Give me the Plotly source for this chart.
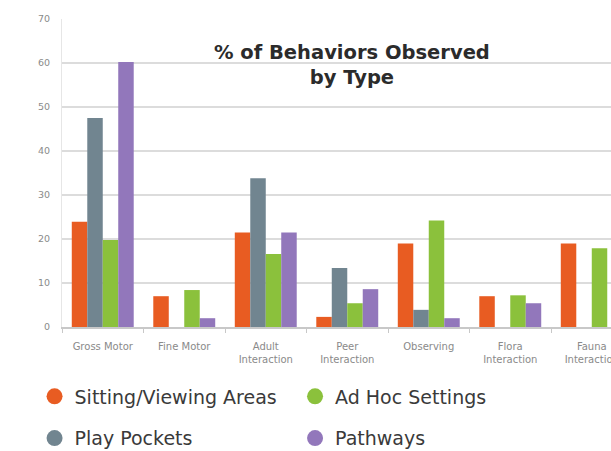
import plotly.graph_objects as go

categories = ["Gross Motor", "Fine Motor", "Adult<br>Interaction", "Peer<br>Interaction",
              "Observing", "Flora<br>Interaction", "Fauna<br>Interaction"]
sitting = [23.9, 7.0, 21.5, 2.3, 19.0, 7.0, 19.0]
play_pockets = [47.5, 0, 33.8, 13.4, 3.9, 0, 0]
ad_hoc = [19.8, 8.4, 16.6, 5.4, 24.2, 7.2, 17.9]
pathways = [60.2, 2.0, 21.5, 8.6, 2.0, 5.4, 0]

series = [
    ("Sitting/Viewing Areas", sitting, "#e85c22", "legend"),
    ("Play Pockets", play_pockets, "#718590", "legend"),
    ("Ad Hoc Settings", ad_hoc, "#8bc13c", "legend2"),
    ("Pathways", pathways, "#9277bb", "legend2"),
]

fig = go.Figure()
for name, vals, color, _ in series:
    fig.add_trace(go.Bar(x=categories, y=vals, name=name, marker_color=color,
                         marker_line_width=0, showlegend=False))
for i, (name, vals, color, leg) in enumerate(series):
    fig.add_trace(go.Scatter(x=[None], y=[None], mode="markers", name=name,
                             marker=dict(color=color, size=17, symbol="circle"),
                             legend=leg, legendgroup=name, showlegend=True))

legend_common = dict(orientation="v", yanchor="top", xanchor="left",
                     font=dict(family="DejaVu Sans", size=19, color="#3a3a3a"),
                     bgcolor="rgba(0,0,0,0)", tracegroupgap=14, itemwidth=30)

fig.update_layout(
    width=611, height=451,
    margin=dict(l=62, r=0, t=19, b=124, autoexpand=False),
    paper_bgcolor="white", plot_bgcolor="white",
    barmode="group", bargap=0.24, bargroupgap=0,
    showlegend=True,
    legend=dict(x=-0.05, y=-0.164, **legend_common),
    legend2=dict(x=0.4245, y=-0.164, **legend_common),
    xaxis=dict(range=[-0.5, 6.236], tickson="boundaries", ticks="outside", ticklen=4,
               tickcolor="#c8c8c8", showline=True, linecolor="#c8c8c8", linewidth=1.5,
               ticklabelstandoff=9, automargin=False,
               tickfont=dict(family="DejaVu Sans", size=10, color="#8a8a8a"),
               showgrid=False, fixedrange=True),
    yaxis=dict(range=[0, 70], dtick=10, showgrid=True, gridcolor="#dcdcdc", gridwidth=1.5,
               showline=True, linecolor="#e6e6e6", linewidth=1, zeroline=False,
               ticks="", ticklabelstandoff=9, automargin=False,
               tickfont=dict(family="DejaVu Sans", size=9.5, color="#8a8a8a")),
    annotations=[dict(text="<b>% of Behaviors Observed<br>by Type</b>", xref="paper", yref="paper",
                      x=(352 - 62) / 549, y=(327 - 65) / 308, xanchor="center", yanchor="middle",
                      showarrow=False, align="center",
                      font=dict(family="DejaVu Sans", size=19.5, color="#2b2b2b"))],
)

fig.write_html("out.html")
